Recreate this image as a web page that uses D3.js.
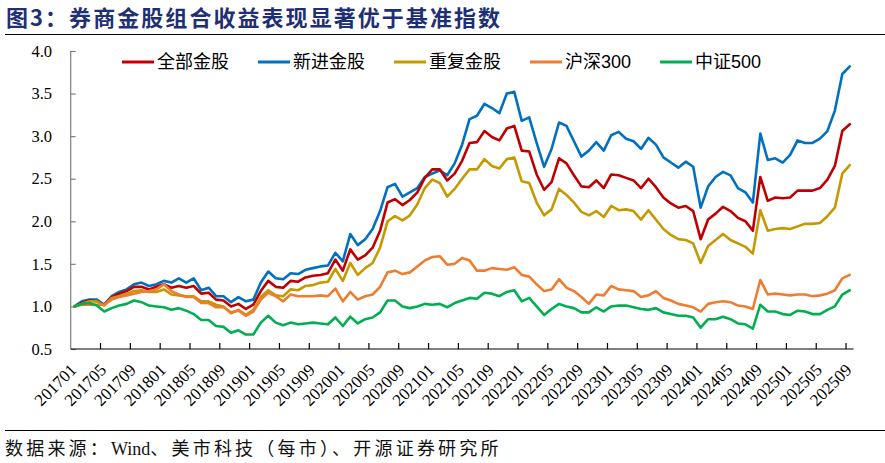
<!DOCTYPE html>
<html>
<head>
<meta charset="utf-8">
<script src="https://cdn.jsdelivr.net/npm/d3@7"></script>
<style>
body{margin:0;background:#fff;}
svg{display:block;}
</style>
</head>
<body>
<svg id="chart" width="885" height="463"></svg>
<script>
// months 201701 - 202509
let months=(
"201701 201702 201703 201704 201705 201706 201707 201708 201709 201710 201711 201712 "+
"201801 201802 201803 201804 201805 201806 201807 201808 201809 201810 201811 201812 "+
"201901 201902 201903 201904 201905 201906 201907 201908 201909 201910 201911 201912 "+
"202001 202002 202003 202004 202005 202006 202007 202008 202009 202010 202011 202012 "+
"202101 202102 202103 202104 202105 202106 202107 202108 202109 202110 202111 202112 "+
"202201 202202 202203 202204 202205 202206 202207 202208 202209 202210 202211 202212 "+
"202301 202302 202303 202304 202305 202306 202307 202308 202309 202310 202311 202312 "+
"202401 202402 202403 202404 202405 202406 202407 202408 202409 202410 202411 202412 "+
"202501 202502 202503 202504 202505 202506 202507 202508 202509").split(" ");

let allPicks=[1.00,1.04,1.07,1.06,1.02,1.11,1.15,1.18,1.23,1.23,1.20,1.23,
1.26,1.22,1.24,1.22,1.24,1.15,1.16,1.08,1.07,1.00,1.03,0.97,
1.02,1.18,1.30,1.23,1.22,1.30,1.29,1.34,1.36,1.37,1.39,1.55,
1.42,1.67,1.55,1.60,1.69,1.89,2.22,2.26,2.19,2.25,2.34,2.51,
2.61,2.61,2.48,2.56,2.71,2.92,2.93,3.06,2.99,2.95,3.09,3.12,
2.83,2.82,2.55,2.37,2.46,2.74,2.68,2.54,2.41,2.40,2.48,2.39,
2.55,2.54,2.51,2.48,2.39,2.50,2.40,2.28,2.21,2.16,2.18,2.12,
1.79,2.02,2.09,2.17,2.12,2.04,2.00,1.89,2.52,2.24,2.28,2.27,
2.28,2.36,2.36,2.36,2.39,2.49,2.65,3.06,3.14];

let newPicks=[1.00,1.06,1.08,1.08,1.02,1.12,1.17,1.20,1.26,1.28,1.24,1.26,
1.30,1.28,1.33,1.28,1.33,1.19,1.22,1.12,1.12,1.05,1.11,1.06,
1.08,1.28,1.41,1.33,1.32,1.39,1.38,1.43,1.45,1.47,1.48,1.63,
1.53,1.85,1.72,1.79,1.91,2.12,2.40,2.44,2.29,2.34,2.39,2.52,
2.56,2.60,2.54,2.68,2.90,3.20,3.24,3.38,3.33,3.27,3.50,3.52,
3.18,3.22,2.92,2.64,2.85,3.16,3.12,2.94,2.76,2.83,2.93,2.83,
3.01,3.05,2.97,2.94,2.85,2.98,2.90,2.75,2.69,2.63,2.70,2.64,
2.16,2.41,2.52,2.58,2.54,2.39,2.34,2.22,3.03,2.72,2.74,2.69,
2.78,2.95,2.92,2.92,2.97,3.06,3.30,3.73,3.82];

let repeatPicks=[1.00,1.03,1.06,1.06,1.01,1.10,1.12,1.15,1.18,1.19,1.17,1.17,
1.20,1.14,1.13,1.12,1.12,1.06,1.06,1.02,1.00,0.92,0.96,0.90,
0.96,1.11,1.19,1.13,1.12,1.20,1.19,1.24,1.25,1.28,1.29,1.44,
1.30,1.51,1.37,1.45,1.51,1.69,2.00,2.06,2.01,2.07,2.20,2.39,
2.49,2.45,2.29,2.38,2.50,2.61,2.61,2.73,2.65,2.62,2.73,2.75,
2.47,2.45,2.22,2.07,2.14,2.38,2.31,2.22,2.11,2.07,2.12,2.05,
2.18,2.13,2.14,2.12,2.02,2.13,2.02,1.91,1.84,1.79,1.78,1.74,
1.51,1.71,1.78,1.85,1.78,1.74,1.70,1.62,2.13,1.89,1.91,1.92,
1.91,1.94,1.97,1.97,1.98,2.06,2.16,2.56,2.66];

let hs300=[1.00,1.02,1.02,1.02,1.02,1.08,1.11,1.13,1.15,1.17,1.18,1.20,
1.26,1.18,1.14,1.11,1.11,1.04,1.04,0.99,0.99,0.93,0.95,0.89,
0.94,1.08,1.16,1.12,1.06,1.14,1.12,1.12,1.12,1.13,1.12,1.21,
1.06,1.17,1.08,1.12,1.14,1.23,1.40,1.42,1.38,1.40,1.47,1.54,
1.58,1.59,1.49,1.50,1.57,1.54,1.42,1.42,1.45,1.44,1.43,1.46,
1.37,1.35,1.26,1.18,1.20,1.32,1.22,1.18,1.11,1.03,1.14,1.13,
1.24,1.20,1.19,1.18,1.11,1.13,1.18,1.10,1.07,1.03,1.01,0.99,
0.94,1.03,1.05,1.06,1.05,1.01,1.00,0.97,1.31,1.14,1.15,1.14,
1.13,1.14,1.14,1.12,1.13,1.15,1.19,1.33,1.37];

let zz500=[1.00,1.03,1.04,1.01,0.94,0.98,1.01,1.03,1.07,1.05,1.01,1.00,
0.99,0.96,0.98,0.95,0.91,0.84,0.84,0.77,0.76,0.69,0.72,0.67,
0.67,0.81,0.89,0.81,0.78,0.81,0.79,0.80,0.81,0.80,0.79,0.87,
0.77,0.88,0.80,0.85,0.87,0.93,1.07,1.07,1.00,0.98,1.00,1.03,
1.02,1.03,0.99,1.04,1.07,1.10,1.09,1.16,1.15,1.12,1.17,1.19,
1.06,1.10,1.00,0.90,0.97,1.03,1.00,0.98,0.93,0.93,0.99,0.94,
1.00,1.01,1.01,0.99,0.97,0.96,0.98,0.93,0.91,0.89,0.89,0.87,
0.75,0.85,0.85,0.88,0.85,0.80,0.79,0.74,1.02,0.94,0.94,0.91,
0.90,0.95,0.94,0.91,0.91,0.96,1.00,1.14,1.19];

let names=["全部金股","新进金股","重复金股","沪深300","中证500"];
let colors=["#C00000","#0070C0","#C49A00","#ED7D31","#00B050"];
let yTicks=[0.5,1.0,1.5,2.0,2.5,3.0,3.5,4.0];

let titleText="图3：券商金股组合收益表现显著优于基准指数";
let sourceParts=["数据来源：","Wind","、美市科技（每市）、开源证券研究所"];

let series=[allPicks,newPicks,repeatPicks,hs300,zz500];

let svg=d3.select("#chart");

// title + rules
svg.append("text").text(titleText).attr("x",6).attr("y",26)
  .attr("textLength",494).attr("lengthAdjust","spacing")
  .style("font","bold 22px 'Noto Sans CJK SC'").style("fill","#1F2F73");
svg.append("line").attr("x1",5).attr("x2",885).attr("y1",34.5).attr("y2",34.5)
  .style("stroke","#000").style("stroke-width",1.2);
svg.append("line").attr("x1",5).attr("x2",885).attr("y1",430.5).attr("y2",430.5)
  .style("stroke","#000").style("stroke-width",1.2);
let src=svg.append("text").attr("x",5).attr("y",455)
  .style("font","18px 'Liberation Serif','Noto Sans CJK SC'").style("fill","#111");
sourceParts.forEach((p,i)=>{
  src.append("tspan").text(p).style("letter-spacing",i==1?"0px":"3.2px");
});

// scales
let x=d3.scaleBand().domain(months).range([70.7,853.5]).padding(0);
let y=d3.scaleLinear().domain([0.5,4.0]).range([349,51]);
let cx=(m)=>x(m)+x.bandwidth()/2;

// y axis
let yAxis=svg.append("g").attr("transform","translate(70.7,0)")
  .call(d3.axisRight(y).tickValues(yTicks).tickSize(5).tickFormat(""));
yAxis.select(".domain").attr("d","M0,51V349").style("stroke","#7f7f7f").style("stroke-width",1.2);
yAxis.selectAll(".tick line").style("stroke","#7f7f7f").style("stroke-width",1.2);
svg.selectAll(".ylab").data(yTicks).enter().append("text")
  .attr("x",52).attr("y",d=>y(d)).attr("dy","0.35em")
  .style("text-anchor","end").style("font","16.5px 'Liberation Serif'").style("fill","#000")
  .text(d=>d.toFixed(1));

// x axis: ticks on group boundaries, every 4 months
let bounds=months.filter((m,i)=>i>0&&i%4==0);
let xg=svg.append("g");
xg.append("line").attr("x1",70.7).attr("x2",853.5).attr("y1",349).attr("y2",349)
  .style("stroke","#000").style("stroke-width",1.2);
xg.selectAll(".xt").data(bounds).enter().append("line")
  .attr("x1",d=>x(d)).attr("x2",d=>x(d)).attr("y1",349).attr("y2",343)
  .style("stroke","#000").style("stroke-width",1.2);
let labs=months.filter((m,i)=>i%4==0);
xg.selectAll(".xl").data(labs).enter().append("text")
  .attr("transform",d=>`translate(${cx(d)+3},371) rotate(-45)`)
  .style("text-anchor","end").style("font","17px 'Liberation Serif'").style("fill","#000")
  .text(d=>d);

// lines, drawn blue first so red sits on top where they cross
let line=d3.line().x((v,i)=>cx(months[i])).y(v=>y(v));
let order=[1,0,2,3,4];
order.forEach(k=>{
  svg.append("path").datum(series[k]).attr("d",line)
    .style("fill","none").style("stroke",colors[k]).style("stroke-width",2.6)
    .style("stroke-linejoin","round").style("stroke-linecap","round");
});

// legend
let lg=svg.append("g");
let lx=122;
names.forEach((n,k)=>{
  lg.append("line").attr("x1",lx).attr("x2",lx+32).attr("y1",62).attr("y2",62)
    .style("stroke",colors[k]).style("stroke-width",3);
  let t=lg.append("text").text(n).attr("x",lx+35).attr("y",62).attr("dy","0.36em")
    .style("font","18px 'Liberation Sans','Noto Sans CJK SC'").style("fill","#000");
  lx+=35+t.node().getComputedTextLength()+29;
});
</script>
</body>
</html>
